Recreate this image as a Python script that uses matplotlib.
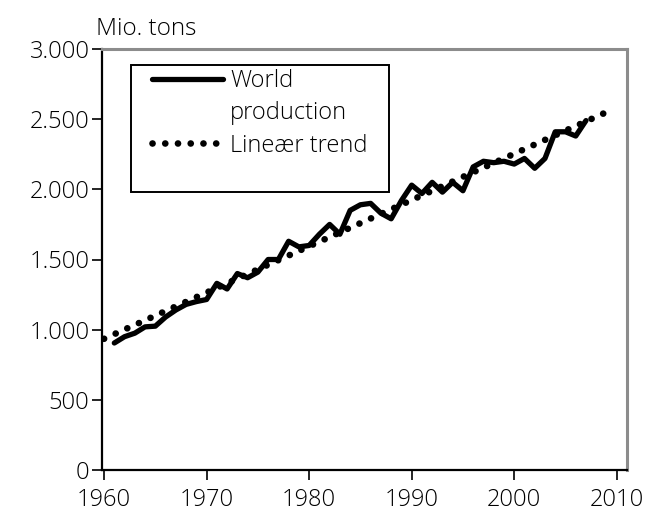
import matplotlib
matplotlib.use("Agg")
import matplotlib.pyplot as plt
from matplotlib.lines import Line2D
from matplotlib.patches import Rectangle

plt.rcParams['font.family'] = ['Open Sans', 'DejaVu Sans']
plt.rcParams['font.weight'] = 'light'

years = list(range(1961, 2008))
production = [905, 950, 975, 1020, 1025, 1090, 1140, 1180, 1200, 1215,
              1330, 1290, 1400, 1370, 1410, 1500, 1500, 1630, 1590, 1600,
              1680, 1750, 1680, 1850, 1890, 1900, 1830, 1790, 1920, 2030,
              1970, 2050, 1980, 2050, 1990, 2160, 2200, 2190, 2200, 2180,
              2220, 2150, 2220, 2410, 2410, 2380, 2490]
trend_years = [1960, 2009]
trend_values = [935, 2550]

x_ticks = [1960, 1970, 1980, 1990, 2000, 2010]
y_ticks = [0, 500, 1000, 1500, 2000, 2500, 3000]
y_tick_labels = ["0", "500", "1.000", "1.500", "2.000", "2.500", "3.000"]

FS = 17

fig = plt.figure(figsize=(6.48, 5.13), dpi=100)
ax = fig.add_axes([102/648, 1-470/513, 525/648, 421/513])

ax.plot(years, production, color='black', lw=3.8, solid_joinstyle='round',
        solid_capstyle='round', zorder=3)
ax.plot(trend_years, trend_values, color='black', lw=4.8,
        linestyle=(0, (0.01, 1.9)), dash_capstyle='round', zorder=2)

ax.set_xlim(1959.8, 2011)
ax.set_ylim(0, 3000)
ax.set_xticks(x_ticks)
ax.set_yticks(y_ticks)
ax.set_yticklabels(y_tick_labels)
ax.tick_params(direction='out', length=7, width=1.2, labelsize=FS,
               colors='black')
ax.tick_params(axis='x', pad=6)
ax.tick_params(axis='y', pad=2)

for s in ['left', 'bottom']:
    ax.spines[s].set_color('black')
    ax.spines[s].set_linewidth(1.6)
for s in ['top', 'right']:
    ax.spines[s].set_color('#8c8c8c')
    ax.spines[s].set_linewidth(2.2)

ax.text(-0.012, 1.02, "Mio. tons", transform=ax.transAxes, fontsize=17.5,
        ha='left', va='bottom')

# legend box
ax.add_patch(Rectangle(((131-102)/525, (470-192)/421), (389-131)/525, (192-65)/421,
                       transform=ax.transAxes, fill=False, edgecolor='black',
                       lw=1.4, zorder=4))
handles = [Line2D([], [], color='black', lw=3.8, solid_capstyle='round'),
           Line2D([], [], color='none'),
           Line2D([], [], color='black', lw=4.8, linestyle=(0, (0.01, 1.9)),
                  dash_capstyle='round')]
labels = ["World", "production", "Lineær trend"]
leg = ax.legend(handles, labels, loc='upper left',
                bbox_to_anchor=((152-102)/525, (470-69)/421), frameon=False,
                fontsize=FS, handlelength=3.0, handletextpad=0.3,
                labelspacing=0.35, borderpad=0, borderaxespad=0)

fig.savefig("out.png", dpi=100)
